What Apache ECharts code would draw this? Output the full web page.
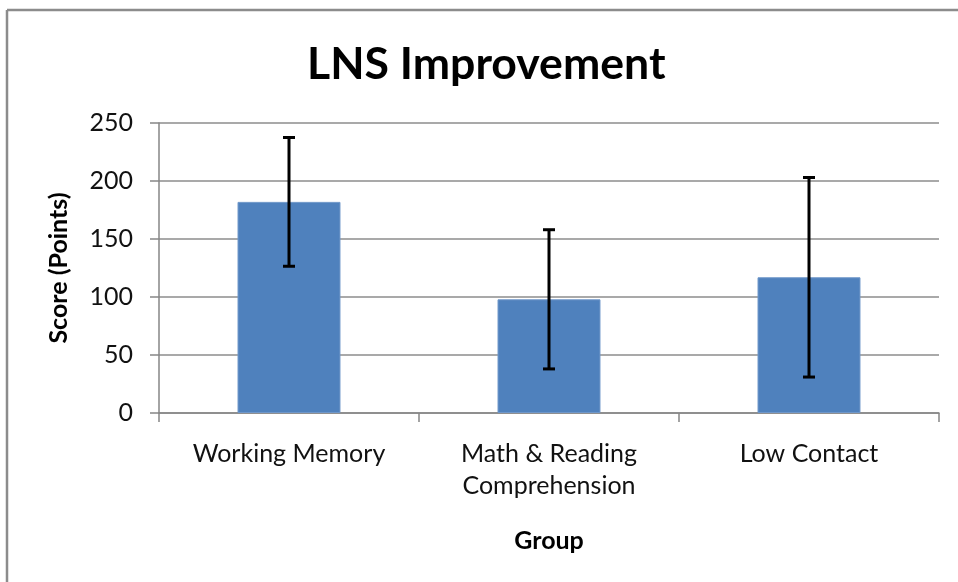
<!DOCTYPE html>
<html>
<head>
<meta charset="utf-8">
<script src="https://cdn.jsdelivr.net/npm/echarts@6/dist/echarts.min.js"></script>
<style>
html,body{margin:0;padding:0;background:#fff;}
#chart{width:958px;height:582px;}
</style>
</head>
<body>
<div id="chart"></div>
<script>
const categories = ['Working Memory', 'Math & Reading\nComprehension', 'Low Contact'];
const means = [182, 98, 117];
const errors = [55.5, 60, 86];
const yTicks = [0, 50, 100, 150, 200, 250];

const FONT = 'Lato';
const chart = echarts.init(document.getElementById('chart'), null, {renderer: 'canvas'});

const errData = means.map((m, i) => [i, m - errors[i], m + errors[i]]);

chart.setOption({
  animation: false,
  backgroundColor: '#fff',
  title: {
    text: 'LNS Improvement',
    left: 302,
    top: 37,
    textStyle: {fontFamily: FONT, fontWeight: 'bold', fontSize: 44.6, color: '#000'}
  },
  graphic: [
    {type: 'line', shape: {x1: 7, y1: 10, x2: 958, y2: 10}, style: {stroke: '#8c8c8c', lineWidth: 2.5}},
    {type: 'line', shape: {x1: 7, y1: 10, x2: 7, y2: 582}, style: {stroke: '#8c8c8c', lineWidth: 2.5}}
  ],
  grid: {left: 159, right: 19, top: 123, bottom: 169, containLabel: false},
  xAxis: {
    type: 'category',
    data: categories,
    name: 'Group',
    nameLocation: 'middle',
    nameGap: 115,
    nameTextStyle: {fontFamily: FONT, fontWeight: 'bold', fontSize: 25, color: '#000'},
    axisLine: {lineStyle: {color: '#868686', width: 1.5}},
    axisTick: {show: true, length: 9, alignWithLabel: false, lineStyle: {color: '#868686', width: 1.5}},
    axisLabel: {fontFamily: FONT, fontSize: 25, color: '#111', margin: 25, lineHeight: 32, interval: 0}
  },
  yAxis: {
    type: 'value',
    min: 0, max: 250, interval: 50,
    name: 'Score (Points)',
    nameLocation: 'middle',
    nameGap: 88,
    nameRotate: 90,
    nameTextStyle: {fontFamily: FONT, fontWeight: 'bold', fontSize: 25, color: '#000'},
    axisLine: {show: true, lineStyle: {color: '#868686', width: 1.5}},
    axisTick: {show: true, length: 9, lineStyle: {color: '#868686', width: 1.5}},
    axisLabel: {fontFamily: FONT, fontSize: 25, color: '#111', margin: 26,
      formatter: v => yTicks.includes(v) ? String(v) : ''},
    splitLine: {show: true, lineStyle: {color: '#8c8c8c', width: 1.5}}
  },
  series: [
    {
      type: 'bar',
      data: means,
      barWidth: '39.6%',
      itemStyle: {color: '#4f81bd', borderColor: '#6f97c9', borderWidth: 1}
    },
    {
      type: 'custom',
      data: errData,
      z: 10,
      renderItem: function (params, api) {
        const i = api.value(0);
        const lo = api.coord([i, api.value(1)]);
        const hi = api.coord([i, api.value(2)]);
        const hw = 6;
        const style = {stroke: '#000', lineWidth: 3};
        return {
          type: 'group',
          children: [
            {type: 'line', shape: {x1: hi[0], y1: hi[1], x2: lo[0], y2: lo[1]}, style: style},
            {type: 'line', shape: {x1: hi[0] - hw, y1: hi[1], x2: hi[0] + hw, y2: hi[1]}, style: style},
            {type: 'line', shape: {x1: lo[0] - hw, y1: lo[1], x2: lo[0] + hw, y2: lo[1]}, style: style}
          ]
        };
      }
    }
  ]
});
</script>
</body>
</html>
